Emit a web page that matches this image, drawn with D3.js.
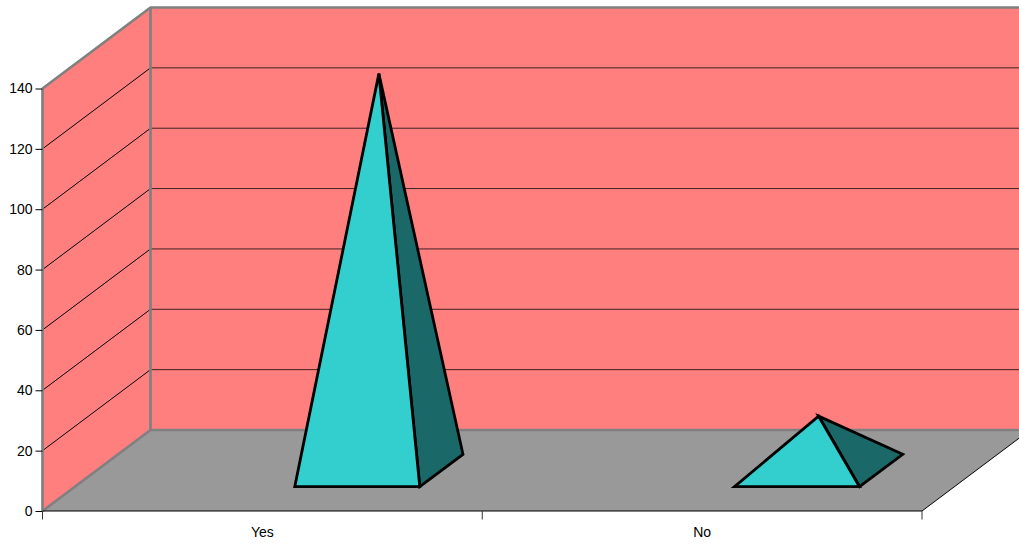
<!DOCTYPE html>
<html><head><meta charset="utf-8">
<script src="https://cdnjs.cloudflare.com/ajax/libs/d3/7.8.5/d3.min.js"></script>
<style>html,body{margin:0;padding:0;background:#fff;overflow:hidden}svg{display:block}text{font-family:"Liberation Sans",Arial,sans-serif;font-size:14px;fill:#000}</style>
</head><body><svg id="c" width="1019" height="545"></svg>
<script>
const categories = ["Yes","No"];
const values = [131.5,18];
const yTicks = [0,20,40,60,80,100,120,140];

const svg = d3.select("#c");
const x = d3.scaleBand().domain(categories).range([42.5,922]);
const y = d3.scaleLinear().domain([0,140]).range([511,88.5]);
// depth: 0 = front of floor, 1 = back wall
const zx = d3.scaleLinear().domain([0,1]).range([0,108]);
const zy = d3.scaleLinear().domain([0,1]).range([0,-81]);
const x0 = 42.5, x1 = 922, xWall = 1025, yB = y(0), yT = y(140);
const P = (px,py,z)=>[px+zx(z),py+zy(z)];
const line = d3.line();
const poly = pts => line(pts)+"Z";
const D = 1;

// floor
svg.append("path").attr("d",poly([P(x0,yB,0),P(x1,yB,0),P(x1,yB,D),P(x0,yB,D)])).attr("fill","#999");
// back wall
svg.append("path").attr("d",poly([P(x0,yB,D),[xWall,yB+zy(D)],[xWall,yT+zy(D)],P(x0,yT,D)])).attr("fill","#ff7f7f");
// side wall
svg.append("path").attr("d",poly([P(x0,yB,0),P(x0,yB,D),P(x0,yT,D),P(x0,yT,0)])).attr("fill","#ff7f7f");

// grid
yTicks.slice(1,-1).forEach(t=>{
  svg.append("path").attr("d",line([P(x0,y(t),0),P(x0,y(t),D)])).attr("fill","none").attr("stroke","#000").attr("stroke-width",1);
  svg.append("path").attr("d",line([P(x0,y(t),D),[xWall,y(t)+zy(D)]])).attr("fill","none").attr("stroke","#000").attr("stroke-width",1).attr("opacity",0.75);
});

// wall frames
const frame = pts => svg.append("path").attr("d",line(pts)).attr("fill","none").attr("stroke","#808080").attr("stroke-width",2.7);
frame([P(x0,yT,0),P(x0,yT,D),[xWall,yT+zy(D)]]);
frame([P(x0,yB,0),P(x0,yB,D),[xWall,yB+zy(D)]]);
frame([P(x0,yT,D),P(x0,yB,D)]);
frame([P(x0,yT,0),P(x0,yB,0)]);

// floor right edge
svg.append("path").attr("d",line([P(x1,yB,0),P(x1,yB,D)])).attr("fill","none").attr("stroke","#000").attr("stroke-width",1);

// pyramids
const zFront = 0.3, zBack = 0.7, barW = 125;
categories.forEach((c,i)=>{
  const left = x(c)+x.bandwidth()/2, right = left+barW;
  const fl = P(left,yB,zFront), fr = P(right,yB,zFront), br = P(right,yB,zBack);
  const cx = (fl[0]+br[0])/2, cy = (fl[1]+br[1])/2;
  const apex = [cx, cy-(yB-y(values[i]))];
  const g = svg.append("g").attr("stroke","#000").attr("stroke-width",2.8);
  g.append("path").attr("d",poly([fr,br,apex])).attr("fill","#1a6868");
  g.append("path").attr("d",poly([fl,fr,apex])).attr("fill","#33cfcf");
});

// axes
const yAxis = svg.append("g").attr("transform",`translate(${x0},0)`)
  .call(d3.axisLeft(y).tickValues(yTicks).tickSize(7).tickSizeOuter(0).tickPadding(3));
yAxis.select(".domain").remove();
yAxis.selectAll("text").style("font-size","14px").style("font-family","Liberation Sans");
const edgeTicks = [x0,(x0+x1)/2,x1];
svg.append("path").attr("d",line([[x0,yB],[x1,yB]])).attr("stroke","#000").attr("stroke-width",1.2).attr("fill","none");
svg.selectAll(".xt").data(edgeTicks).join("path").attr("class","xt")
  .attr("d",d=>line([[d,yB],[d,yB+8.5]])).attr("stroke","#333").attr("stroke-width",1).attr("fill","none");
svg.selectAll(".xl").data(categories).join("text").attr("class","xl")
  .attr("x",d=>x(d)+x.bandwidth()/2).attr("y",537).attr("text-anchor","middle").text(d=>d);
</script></body></html>
